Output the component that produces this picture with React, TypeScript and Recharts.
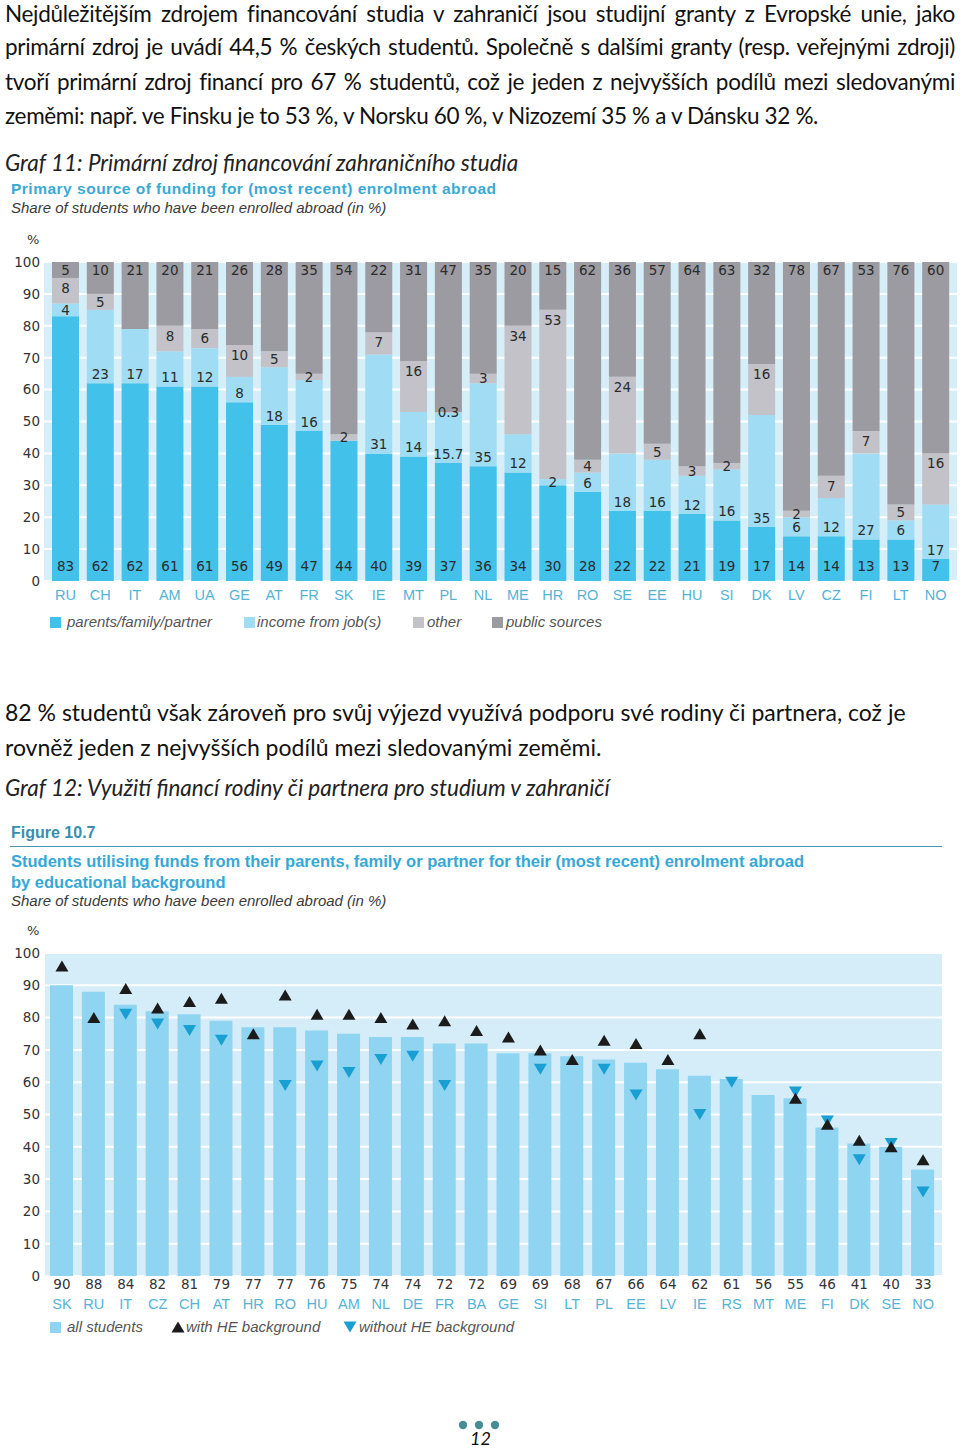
import React from 'react';
import { BarChart, Bar, XAxis, YAxis, CartesianGrid, LabelList, ComposedChart, Line } from 'recharts';

// Graf 11: primary source of funding, by country (%)
const fundCountries = ['RU', 'CH', 'IT', 'AM', 'UA', 'GE', 'AT', 'FR', 'SK', 'IE', 'MT', 'PL', 'NL', 'ME', 'HR', 'RO', 'SE', 'EE', 'HU', 'SI', 'DK', 'LV', 'CZ', 'FI', 'LT', 'NO'];
const parents = [83, 62, 62, 61, 61, 56, 49, 47, 44, 40, 39, 37, 36, 34, 30, 28, 22, 22, 21, 19, 17, 14, 14, 13, 13, 7];
const job = [4, 23, 17, 11, 12, 8, 18, 16, 0, 31, 14, 15.7, 26, 12, 2, 6, 18, 16, 12, 16, 35, 6, 12, 27, 6, 17];
const other = [8, 5, 0, 8, 6, 10, 5, 2, 2, 7, 16, 0.3, 3, 34, 53, 4, 24, 5, 3, 2, 16, 2, 7, 7, 5, 16];
const publicSrc = [5, 10, 21, 20, 21, 26, 28, 35, 54, 22, 31, 47, 35, 20, 15, 62, 36, 57, 64, 63, 32, 78, 67, 53, 76, 60];
// the source prints a different number than the segment size here
const printedJob: Record<string, string> = { NL: '35' };

// Graf 12: students using family funds, by educational background (%)
const eduCountries = ['SK', 'RU', 'IT', 'CZ', 'CH', 'AT', 'HR', 'RO', 'HU', 'AM', 'NL', 'DE', 'FR', 'BA', 'GE', 'SI', 'LT', 'PL', 'EE', 'LV', 'IE', 'RS', 'MT', 'ME', 'FI', 'DK', 'SE', 'NO'];
const allStudents = [90, 88, 84, 82, 81, 79, 77, 77, 76, 75, 74, 74, 72, 72, 69, 69, 68, 67, 66, 64, 62, 61, 56, 55, 46, 41, 40, 33];
const withHE = [96, 80, 89, 83, 85, 86, 75, 87, 81, 81, 80, 78, 79, 76, 74, 70, 67, 73, 72, 67, 75, null, null, 55, 47, 42, 40, 36];
const withoutHE = [null, null, 81, 78, 76, 73, null, 59, 65, 63, 67, 68, 59, null, null, 64, null, 64, 56, null, 50, 60, null, 57, 48, 36, 41, 26];

const yTicks = [0, 10, 20, 30, 40, 50, 60, 70, 80, 90, 100];

const fundData = fundCountries.map((c, i) => ({
  c,
  parents: parents[i],
  job: job[i],
  other: other[i],
  publicSrc: publicSrc[i],
}));

const eduData = eduCountries.map((c, i) => ({
  c,
  all: allStudents[i],
  he: withHE[i],
  noHe: withoutHE[i],
}));

const TEXT = "Lato, 'Open Sans', sans-serif";
const NUM = "'DejaVu Sans', sans-serif";
const SANS = "'Liberation Sans', Arial, sans-serif";

const C = {
  parents: '#42c1ea',
  job: '#a0dcf3',
  other: '#c2c2c8',
  pub: '#9b9ba1',
  plot: '#d6eef8',
  tick: '#55b3d6',
  num: '#2b2b2b',
  bar2: '#8fd4f1',
  plot2: '#d4edf8',
  up: '#1b1b1b',
  down: '#1a9fd3',
};

type TProps = {
  x: number;
  base: number;
  size: number;
  font?: string;
  asc?: number;
  desc?: number;
  width?: number;
  justify?: boolean;
  style?: React.CSSProperties;
  children: React.ReactNode;
};

// text placed by its baseline
const T = ({ x, base, size, font = TEXT, asc = 0.987, desc = 0.213, width, justify, style, children }: TProps) => (
  <div
    style={{
      position: 'absolute',
      left: x,
      top: base - asc * size,
      width,
      fontFamily: font,
      fontSize: size,
      lineHeight: `${(asc + desc) * size}px`,
      whiteSpace: justify ? 'normal' : 'nowrap',
      textAlign: justify ? 'justify' : 'left',
      textAlignLast: justify ? 'justify' : undefined,
      color: '#111',
      ...style,
    }}
  >
    {children}
  </div>
);

const L = { font: SANS, asc: 0.905, desc: 0.212 };
const BODY = 22.5;

const YTick = (p: any) => (
  <text x={40} y={p.y} dy="0.36em" textAnchor="end" fontFamily={NUM} fontSize={13.5} fill="#333">
    {p.payload.value}
  </text>
);

const FundTick = (p: any) => (
  <text x={p.x} y={p.y + 19} textAnchor="middle" fontFamily={SANS} fontSize={14.5} fill={C.tick}>
    {p.payload.value}
  </text>
);

const EduTick = (p: any) => {
  const i = eduCountries.indexOf(p.payload.value);
  return (
    <g>
      <text x={p.x} y={p.y + 13} textAnchor="middle" fontFamily={NUM} fontSize={13.5} fill="#333">
        {allStudents[i]}
      </text>
      <text x={p.x} y={p.y + 33} textAnchor="middle" fontFamily={SANS} fontSize={14.5} fill={C.tick}>
        {p.payload.value}
      </text>
    </g>
  );
};

type Kind = 'parents' | 'job' | 'other' | 'publicSrc';

// LabelList gets the country code as its value, so zero-height segments can't shift the lookup
const segLabel = (kind: Kind) => (props: any) => {
  const vb = props.viewBox || props;
  const { x, y, width, height } = vb;
  const code = String(props.value);
  const i = fundCountries.indexOf(code);
  const v = i >= 0 ? fundData[i][kind] : 0;
  if (!v) return <g key={`${kind}-${code}`} />;
  const text = kind === 'job' && printedJob[code] ? printedJob[code] : String(v);
  let cy: number;
  if (kind === 'parents') cy = y + height - 15;
  else if (kind === 'job') cy = y + height - Math.min(9, height / 2);
  else if (kind === 'other') cy = y + Math.min(10, height / 2);
  else cy = y + 8;
  return (
    <text key={`${kind}-${code}`} x={x + width / 2} y={cy} dy="0.36em" textAnchor="middle" fontFamily={NUM} fontSize={13.5} fill={C.num}>
      {text}
    </text>
  );
};

const triangle = (up: boolean) => (props: any) => {
  const { cx, cy, index, value } = props;
  if (value == null || cy == null || isNaN(cy)) return <g key={`t${up ? 'u' : 'd'}-${index}`} />;
  const w = 6.5;
  const h = 5.5;
  const d = up
    ? `M${cx - w},${cy + h}L${cx + w},${cy + h}L${cx},${cy - h}Z`
    : `M${cx - w},${cy - h}L${cx + w},${cy - h}L${cx},${cy + h}Z`;
  return <path key={`t${up ? 'u' : 'd'}-${index}`} d={d} fill={up ? C.up : C.down} />;
};

const fundMargin = { top: 32, right: 3, bottom: 0, left: 0 };
const eduMargin = { top: 33, right: 18, bottom: 0, left: 0 };

const Sq = ({ x, y, color }: { x: number; y: number; color: string }) => (
  <div style={{ position: 'absolute', left: x, top: y, width: 11, height: 11, background: color }} />
);

export default function App() {
  const legendText = { ...L, size: 15, style: { fontStyle: 'italic', color: '#555' } as React.CSSProperties };
  const caption = { fontStyle: 'italic', color: '#222' } as React.CSSProperties;
  const tight = { letterSpacing: -0.3 } as React.CSSProperties;
  return (
    <div style={{ position: 'relative', width: 960, height: 1448, background: '#fff', overflow: 'hidden' }}>
      <style>{'body{margin:0}'}</style>

      {/* paragraph 1 */}
      <T x={5} base={22} size={BODY} width={950} justify style={tight}>
        Nejdůležitějším zdrojem financování studia v zahraničí jsou studijní granty z Evropské unie, jako
      </T>
      <T x={5} base={55.5} size={BODY} width={950} justify style={tight}>
        primární zdroj je uvádí 44,5 % českých studentů. Společně s dalšími granty (resp. veřejnými zdroji)
      </T>
      <T x={5} base={90} size={BODY} width={950} justify style={tight}>
        tvoří primární zdroj financí pro 67 % studentů, což je jeden z nejvyšších podílů mezi sledovanými
      </T>
      <T x={5} base={124.5} size={BODY} style={{ letterSpacing: -0.35 }}>
        zeměmi: např. ve Finsku je to 53 %, v Norsku 60 %, v Nizozemí 35 % a v Dánsku 32 %.
      </T>
      <T x={5} base={171} size={BODY} style={caption}>
        Graf 11: Primární zdroj financování zahraničního studia
      </T>

      {/* chart 1 headings */}
      <T x={11} base={194} size={15.5} {...L} style={{ fontWeight: 700, color: '#3aa9d5', letterSpacing: 0.5 }}>
        Primary source of funding for (most recent) enrolment abroad
      </T>
      <T x={11} base={213.5} size={15} {...L} style={{ fontStyle: 'italic', color: '#3a3a3a' }}>
        Share of students who have been enrolled abroad (in %)
      </T>
      <T x={27} base={244} size={13} font={NUM} asc={0.928} desc={0.236} style={{ color: '#333' }}>
        %
      </T>

      <div style={{ position: 'absolute', left: 0, top: 230 }}>
        <BarChart width={960} height={381} data={fundData} margin={fundMargin} barSize={27}>
          <CartesianGrid vertical={false} stroke="#fff" strokeWidth={2} fill={C.plot} />
          <XAxis dataKey="c" interval={0} axisLine={false} tickLine={false} tickSize={0} tickMargin={0} height={30} padding={{ left: 4, right: 4 }} tick={FundTick} />
          <YAxis width={44} domain={[0, 100]} ticks={yTicks} axisLine={false} tickLine={false} tick={YTick} />
          <Bar dataKey="parents" stackId="s" fill={C.parents} isAnimationActive={false} />
          <Bar dataKey="job" stackId="s" fill={C.job} isAnimationActive={false} />
          <Bar dataKey="other" stackId="s" fill={C.other} isAnimationActive={false} />
          <Bar dataKey="publicSrc" stackId="s" fill={C.pub} isAnimationActive={false} />
        </BarChart>
      </div>
      {/* label overlay, same geometry, so small-segment labels are never covered */}
      <div style={{ position: 'absolute', left: 0, top: 230 }}>
        <BarChart width={960} height={381} data={fundData} margin={fundMargin} barSize={27}>
          <XAxis dataKey="c" interval={0} axisLine={false} tickLine={false} tick={false} height={30} padding={{ left: 4, right: 4 }} />
          <YAxis width={44} domain={[0, 100]} ticks={yTicks} axisLine={false} tickLine={false} tick={false} />
          <Bar dataKey="parents" stackId="s" fill="none" isAnimationActive={false}>
            <LabelList dataKey="c" content={segLabel('parents')} />
          </Bar>
          <Bar dataKey="job" stackId="s" fill="none" isAnimationActive={false}>
            <LabelList dataKey="c" content={segLabel('job')} />
          </Bar>
          <Bar dataKey="other" stackId="s" fill="none" isAnimationActive={false}>
            <LabelList dataKey="c" content={segLabel('other')} />
          </Bar>
          <Bar dataKey="publicSrc" stackId="s" fill="none" isAnimationActive={false}>
            <LabelList dataKey="c" content={segLabel('publicSrc')} />
          </Bar>
        </BarChart>
      </div>

      {/* legend 1 */}
      <Sq x={50} y={617} color={C.parents} />
      <T x={67} base={628} {...legendText}>parents/family/partner</T>
      <Sq x={244} y={617} color={C.job} />
      <T x={257} base={628} {...legendText}>income from job(s)</T>
      <Sq x={413} y={617} color={C.other} />
      <T x={427} base={628} {...legendText}>other</T>
      <Sq x={492} y={617} color={C.pub} />
      <T x={506} base={628} {...legendText}>public sources</T>

      {/* paragraph 2 */}
      <T x={5} base={722} size={23}>
        82 % studentů však zároveň pro svůj výjezd využívá podporu své rodiny či partnera, což je
      </T>
      <T x={5} base={757} size={23}>
        rovněž jeden z nejvyšších podílů mezi sledovanými zeměmi.
      </T>
      <T x={5} base={796} size={BODY} style={caption}>
        Graf 12: Využití financí rodiny či partnera pro studium v zahraničí
      </T>

      {/* chart 2 headings */}
      <T x={11} base={838} size={16} {...L} style={{ fontWeight: 700, color: '#3a8db2' }}>
        Figure 10.7
      </T>
      <div style={{ position: 'absolute', left: 10, top: 846, width: 932, height: 1, background: '#4a93b3' }} />
      <T x={11} base={867} size={16.5} {...L} style={{ fontWeight: 700, color: '#36a8d6' }}>
        Students utilising funds from their parents, family or partner for their (most recent) enrolment abroad
      </T>
      <T x={11} base={888} size={16.5} {...L} style={{ fontWeight: 700, color: '#36a8d6' }}>
        by educational background
      </T>
      <T x={11} base={907} size={15} {...L} style={{ fontStyle: 'italic', color: '#3a3a3a' }}>
        Share of students who have been enrolled abroad (in %)
      </T>
      <T x={27} base={935} size={13} font={NUM} asc={0.928} desc={0.236} style={{ color: '#333' }}>
        %
      </T>

      <div style={{ position: 'absolute', left: 0, top: 920 }}>
        <ComposedChart width={960} height={401} data={eduData} margin={eduMargin} barSize={23}>
          <CartesianGrid vertical={false} stroke="#fff" strokeWidth={2} fill={C.plot2} />
          <XAxis dataKey="c" interval={0} axisLine={false} tickLine={false} tickSize={0} tickMargin={0} height={45} padding={{ left: 1, right: 3 }} tick={EduTick} />
          <YAxis width={45} domain={[0, 100]} ticks={yTicks} axisLine={false} tickLine={false} tick={YTick} />
          <Bar dataKey="all" fill={C.bar2} isAnimationActive={false} />
          <Line dataKey="noHe" stroke="none" dot={triangle(false)} activeDot={false} connectNulls={false} legendType="none" isAnimationActive={false} />
          <Line dataKey="he" stroke="none" dot={triangle(true)} activeDot={false} connectNulls={false} legendType="none" isAnimationActive={false} />
        </ComposedChart>
      </div>

      {/* legend 2 */}
      <Sq x={50} y={1322} color={C.bar2} />
      <T x={67} base={1333} {...legendText}>all students</T>
      <svg style={{ position: 'absolute', left: 170, top: 1320 }} width={16} height={14}>
        <path d="M1.5,12.5L14.5,12.5L8,1.5Z" fill={C.up} />
      </svg>
      <T x={186} base={1333} {...legendText}>with HE background</T>
      <svg style={{ position: 'absolute', left: 342, top: 1320 }} width={16} height={14}>
        <path d="M1.5,1.5L14.5,1.5L8,12.5Z" fill={C.down} />
      </svg>
      <T x={359} base={1333} {...legendText}>without HE background</T>

      {/* page footer */}
      <svg style={{ position: 'absolute', left: 455, top: 1418 }} width={50} height={14}>
        <circle cx={8} cy={7} r={4.2} fill="#4a8c96" />
        <circle cx={24} cy={7} r={4.2} fill="#4a8c96" />
        <circle cx={40} cy={7} r={4.2} fill="#4a8c96" />
      </svg>
      <T x={470} base={1446} size={18} style={{ fontStyle: 'italic', color: '#111' }}>
        12
      </T>
    </div>
  );
}
